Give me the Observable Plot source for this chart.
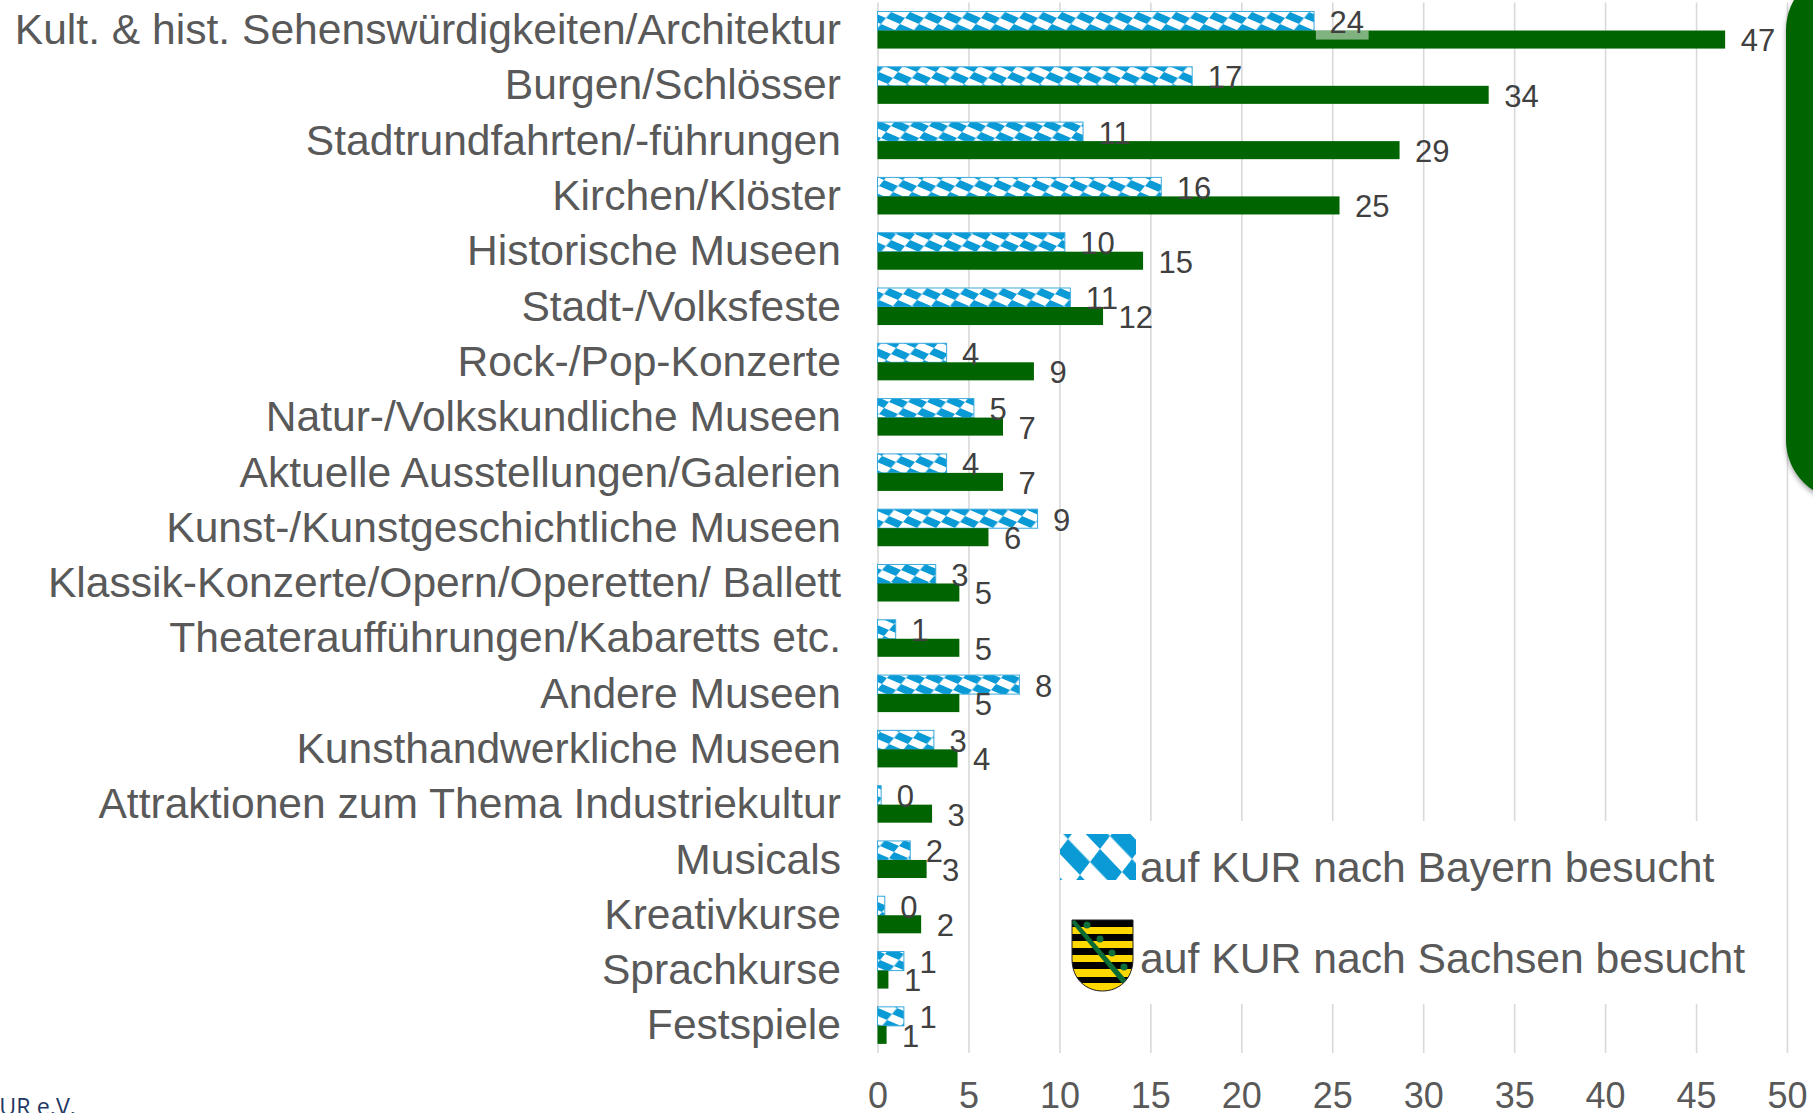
<!DOCTYPE html>
<html lang="de">
<head>
<meta charset="utf-8">
<script src="https://cdn.jsdelivr.net/npm/d3@7"></script>
<script src="https://cdn.jsdelivr.net/npm/@observablehq/plot@0.6"></script>
<style>
  html, body { margin: 0; padding: 0; background: #fff; width: 1813px; height: 1113px; overflow: hidden; position: relative; font-family: "Liberation Sans", Arial, sans-serif; }
  #chart { position: absolute; left: 0; top: 0; }
  #green-panel { position: absolute; left: 1786px; top: -30px; width: 120px; height: 530px; background: #006400; border-radius: 90px; box-shadow: 0 3px 5px rgba(0,0,0,.35); }
  #legend-box { position: absolute; left: 1062px; top: 821px; width: 723px; height: 183px; background: #fff; }
  .legend-text { position: absolute; left: 1140px; font-size: 42.7px; line-height: 50px; color: #595959; white-space: nowrap; }
  #credit { position: absolute; left: -15px; top: 1090px; font: 23.300px "Open Sans", sans-serif; color: #1f3864; white-space: nowrap; }
  .icon { position: absolute; }
</style>
</head>
<body>
<svg width="0" height="0" style="position:absolute">
  <defs>
    <pattern id="rauten" width="20" height="20" patternUnits="userSpaceOnUse" patternTransform="matrix(1.4 0.6 -0.5 0.6 877 6)">
      <rect width="20" height="20" fill="#0a9ad6"/>
      <path d="M0 0 H10 V10 H0 Z M10 10 H20 V20 H10 Z" fill="#fff"/>
    </pattern>
    <pattern id="rauten-flag" width="20" height="20" patternUnits="userSpaceOnUse" patternTransform="matrix(2.2 2.3 -1 1.3 1078 826)">
      <rect width="20" height="20" fill="#0a9ad6"/>
      <path d="M0 0 H10 V10 H0 Z M10 10 H20 V20 H10 Z" fill="#fff"/>
    </pattern>
  </defs>
</svg>
<div id="chart"></div>
<div id="green-panel"></div>
<div id="legend-box"></div>
<svg class="icon" style="left:1060px;top:834px" width="76" height="46" viewBox="1060 834 76 46">
  <rect x="1060" y="834" width="76" height="46" fill="url(#rauten-flag)"/>
</svg>
<svg class="icon" style="left:1071px;top:919px" width="63" height="73" viewBox="0 0 63 73">
  <defs><clipPath id="shield"><path d="M1 1 H62 V40 C62 60 48 72 31.500 72 C15 72 1 60 1 40 Z"/></clipPath></defs>
  <g clip-path="url(#shield)">
    <rect width="63" height="73" fill="#000"/>
    <rect y="8" width="63" height="7" fill="#ffd800"/>
    <rect y="22" width="63" height="7" fill="#ffd800"/>
    <rect y="36" width="63" height="7" fill="#ffd800"/>
    <rect y="50" width="63" height="8" fill="#ffd800"/>
    <rect y="64" width="63" height="9" fill="#ffd800"/>
    <path d="M0 3 L3 0 L59 65 L55 69 Z" fill="#0b6b35"/>
    <g fill="#0f6e3a">
      <circle cx="16" cy="6" r="3.500"/><circle cx="29" cy="20" r="3.500"/><circle cx="41" cy="34" r="3.500"/><circle cx="53" cy="48" r="3.500"/>
    </g>
  </g>
  <path d="M1 1 H62 V40 C62 60 48 72 31.500 72 C15 72 1 60 1 40 Z" fill="none" stroke="#222" stroke-width="1"/>
</svg>
<div class="legend-text" style="top:842px">auf KUR nach Bayern besucht</div>
<div class="legend-text" style="top:933px">auf KUR nach Sachsen besucht</div>
<div id="credit">KUR e.V.</div>
<script>
const categories = [
  "Kult. & hist. Sehenswürdigkeiten/Architektur",
  "Burgen/Schlösser",
  "Stadtrundfahrten/-führungen",
  "Kirchen/Klöster",
  "Historische Museen",
  "Stadt-/Volksfeste",
  "Rock-/Pop-Konzerte",
  "Natur-/Volkskundliche Museen",
  "Aktuelle Ausstellungen/Galerien",
  "Kunst-/Kunstgeschichtliche Museen",
  "Klassik-Konzerte/Opern/Operetten/ Ballett",
  "Theateraufführungen/Kabaretts etc.",
  "Andere Museen",
  "Kunsthandwerkliche Museen",
  "Attraktionen zum Thema Industriekultur",
  "Musicals",
  "Kreativkurse",
  "Sprachkurse",
  "Festspiele"
];
const bayern  = [24.0, 17.3, 11.3, 15.6, 10.3, 10.6, 3.8, 5.3, 3.8, 8.8, 3.2, 1.0, 7.8, 3.1, 0.2, 1.8, 0.4, 1.45, 1.45];
const sachsen = [46.6, 33.6, 28.7, 25.4, 14.6, 12.4, 8.6, 6.9, 6.9, 6.1, 4.5, 4.5, 4.5, 4.4, 3.0, 2.7, 2.4, 0.6, 0.5];
const xTicks = [0, 5, 10, 15, 20, 25, 30, 35, 40, 45, 50];
const labelBackdrop = [{category: categories[0], x1: 24.1, x2: 27}];

const bayernRows = categories.map((category, i) => ({category, value: bayern[i]}));
const sachsenRows = categories.map((category, i) => ({category, value: sachsen[i]}));
const labelFormat = d => d3.format(".0f")(d.value);

const plot = Plot.plot({
  width: 1813,
  height: 1113,
  marginTop: 2.4,
  marginBottom: 60,
  marginLeft: 877.5,
  marginRight: 26,
  style: {background: "transparent", color: "#595959", fontFamily: "'Liberation Sans', Arial, sans-serif", overflow: "visible"},
  x: {domain: [0, 50], label: null},
  y: {domain: categories, paddingInner: 0.33, paddingOuter: 0.165, align: 0.5, round: false, label: null},
  marks: [
    Plot.ruleX(xTicks, {stroke: "#d9d9d9", strokeWidth: 1.6}),
    Plot.barX(bayernRows, {x: "value", y: "category", fill: "url(#rauten)", stroke: "#3aa9dc", strokeWidth: 1, insetBottom: 18}),
    Plot.barX(sachsenRows, {x: "value", y: "category", fill: "#006400", insetTop: 19}),
    Plot.barX(labelBackdrop, {x1: "x1", x2: "x2", y: "category", fill: "#fff", fillOpacity: 0.5, insetTop: 19, insetBottom: 9}),
    Plot.text(bayernRows, {x: "value", y: "category", text: labelFormat, textAnchor: "start", dx: 15, dy: -7.5, fontSize: 31, fill: "#404040"}),
    Plot.text(sachsenRows, {x: "value", y: "category", text: labelFormat, textAnchor: "start", dx: 15, dy: 11, fontSize: 31, fill: "#404040"}),
    Plot.axisX({ticks: xTicks, tickSize: 0, tickPadding: 29, fontSize: 36, label: null, anchor: "bottom"}),
    Plot.axisY({tickSize: 0, tickPadding: 37, fontSize: 42.6, label: null, anchor: "left"})
  ]
});
document.getElementById("chart").appendChild(plot);
</script>
</body>
</html>
